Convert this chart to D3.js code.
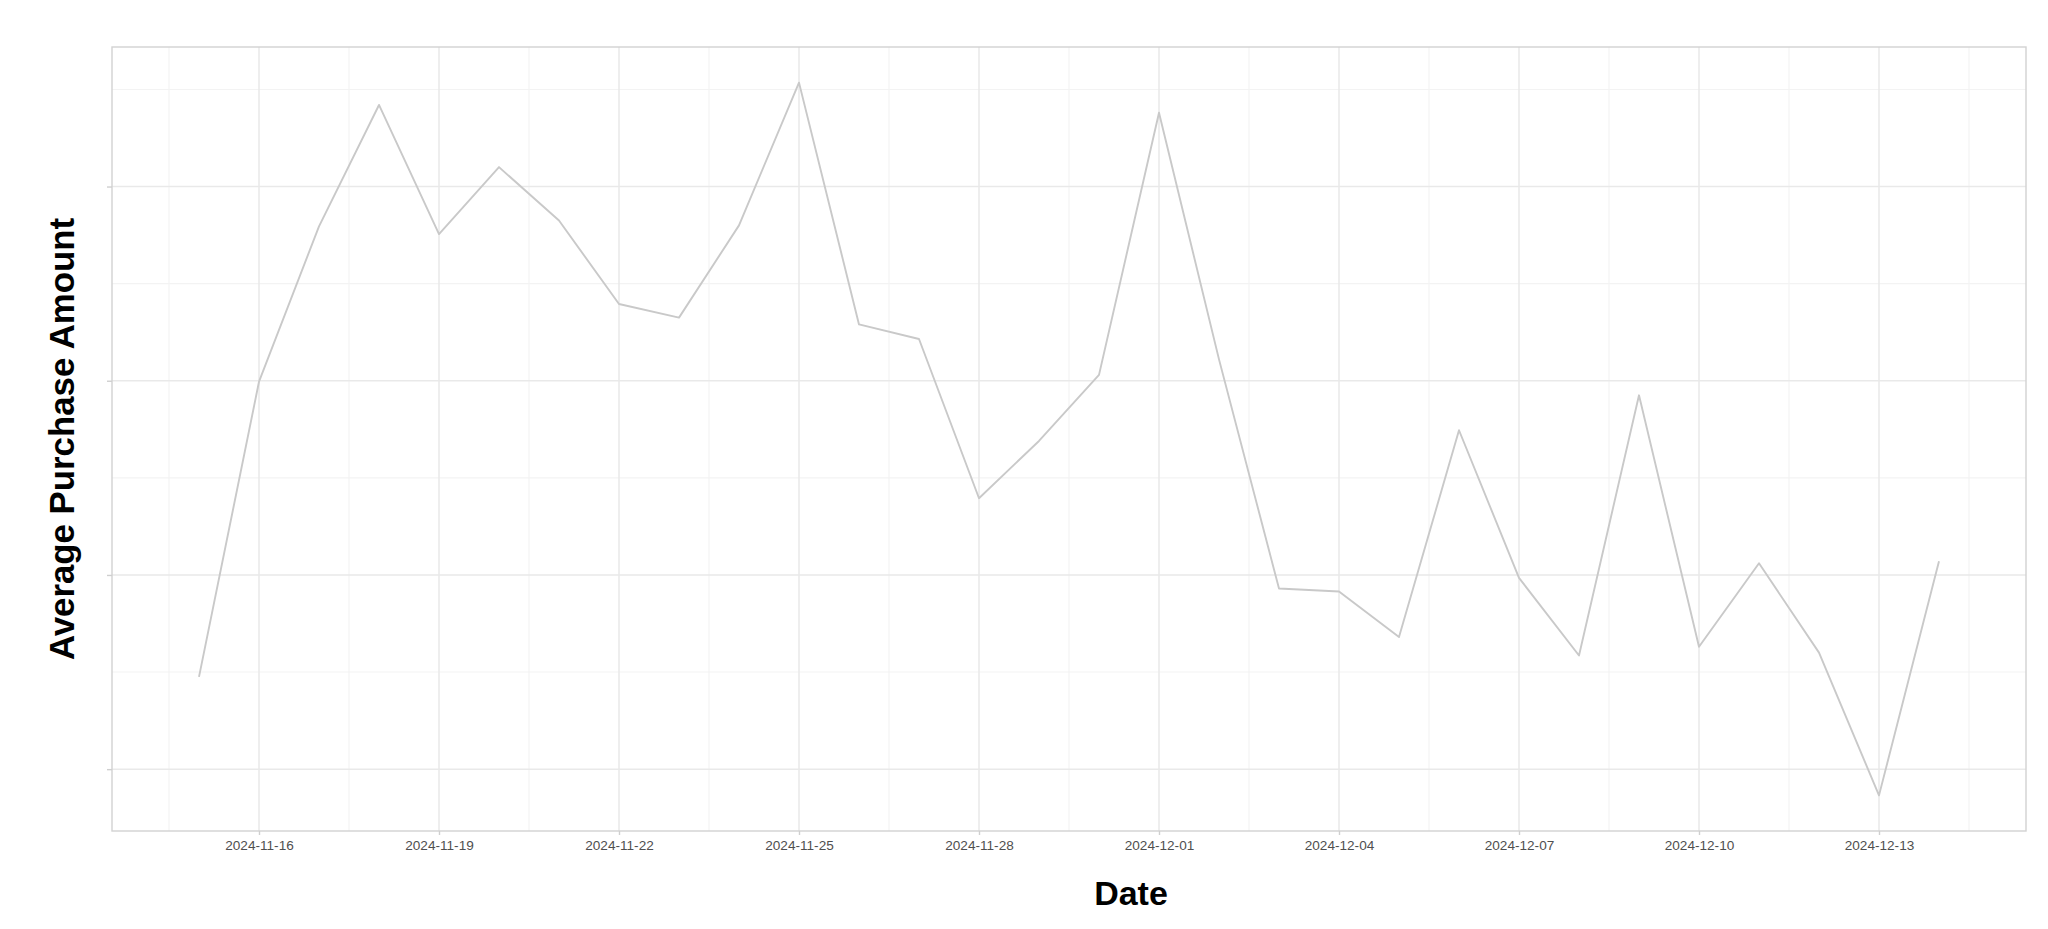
<!DOCTYPE html>
<html>
<head>
<meta charset="utf-8">
<script src="https://cdn.jsdelivr.net/npm/d3@7"></script>
<style>
  html, body { margin: 0; padding: 0; background: #ffffff; }
  svg { display: block; }
</style>
</head>
<body>
<svg id="chart" width="2048" height="929"></svg>
<script>
// ---- data ----
const dates = [
  "2024-11-15","2024-11-16","2024-11-17","2024-11-18","2024-11-19","2024-11-20",
  "2024-11-21","2024-11-22","2024-11-23","2024-11-24","2024-11-25","2024-11-26",
  "2024-11-27","2024-11-28","2024-11-29","2024-11-30","2024-12-01","2024-12-02",
  "2024-12-03","2024-12-04","2024-12-05","2024-12-06","2024-12-07","2024-12-08",
  "2024-12-09","2024-12-10","2024-12-11","2024-12-12","2024-12-13","2024-12-14"
];
const avgPurchase = [
  249.5, 279.9, 295.9, 308.4, 295.1, 302.0,
  296.5, 287.9, 286.5, 296.0, 310.7, 285.8,
  284.3, 267.9, 273.8, 280.6, 307.6, 282.2,
  258.6, 258.3, 253.6, 274.9, 259.7, 251.7,
  278.5, 252.6, 261.2, 252.0, 237.3, 261.4
];
const xTickLabels = ["2024-11-16","2024-11-19","2024-11-22","2024-11-25","2024-11-28",
  "2024-12-01","2024-12-04","2024-12-07","2024-12-10","2024-12-13"];
const yMajorTicks = [240, 260, 280, 300];
const yMinorTicks = [250, 270, 290, 310];
const xLabel = "Date";
const yLabel = "Average Purchase Amount";

// ---- layout ----
const W = 2048, H = 929;
const panel = { left: 112, right: 2026, top: 47, bottom: 831 };
const FONT = "'Liberation Sans', Arial, Helvetica, sans-serif";

const parse = d3.utcParse("%Y-%m-%d");
const data = dates.map((d, i) => ({ date: parse(d), value: avgPurchase[i] }));

const DAY = 86400000;
const xExt = d3.extent(data, d => d.date);
const xPad = (xExt[1] - xExt[0]) * 0.05;
const x = d3.scaleUtc()
  .domain([new Date(+xExt[0] - xPad), new Date(+xExt[1] + xPad)])
  .range([panel.left, panel.right]);

const yExt = d3.extent(data, d => d.value);
const yPad = (yExt[1] - yExt[0]) * 0.05;
const y = d3.scaleLinear()
  .domain([yExt[0] - yPad, yExt[1] + yPad])
  .range([panel.bottom, panel.top]);

const svg = d3.select("#chart");
svg.append("rect").attr("width", W).attr("height", H).attr("fill", "#ffffff");

const xMajor = xTickLabels.map(parse);
const xMinor = [];
for (let i = -1; i < xMajor.length; i++) {
  const base = i < 0 ? +xMajor[0] - 3 * DAY : +xMajor[i];
  const m = new Date(base + 1.5 * DAY);
  if (+m > +x.domain()[0] && +m < +x.domain()[1]) xMinor.push(m);
}

const grid = svg.append("g");
// minor grid
grid.selectAll(".ymin").data(yMinorTicks).join("line")
  .attr("x1", panel.left).attr("x2", panel.right)
  .attr("y1", d => y(d)).attr("y2", d => y(d))
  .attr("stroke", "#f3f3f3").attr("stroke-width", 1.1);
grid.selectAll(".xmin").data(xMinor).join("line")
  .attr("y1", panel.top).attr("y2", panel.bottom)
  .attr("x1", d => x(d)).attr("x2", d => x(d))
  .attr("stroke", "#f3f3f3").attr("stroke-width", 1.1);
// major grid
grid.selectAll(".ymaj").data(yMajorTicks).join("line")
  .attr("x1", panel.left).attr("x2", panel.right)
  .attr("y1", d => y(d)).attr("y2", d => y(d))
  .attr("stroke", "#e9e9e9").attr("stroke-width", 1.5);
grid.selectAll(".xmaj").data(xMajor).join("line")
  .attr("y1", panel.top).attr("y2", panel.bottom)
  .attr("x1", d => x(d)).attr("x2", d => x(d))
  .attr("stroke", "#e9e9e9").attr("stroke-width", 1.5);

// line
const line = d3.line().x(d => x(d.date)).y(d => y(d.value));
svg.append("path").datum(data)
  .attr("d", line)
  .attr("fill", "none")
  .attr("stroke", "#c9c9c9")
  .attr("stroke-width", 1.9)
  .attr("stroke-linejoin", "round");

// panel border
svg.append("rect")
  .attr("x", panel.left).attr("y", panel.top)
  .attr("width", panel.right - panel.left).attr("height", panel.bottom - panel.top)
  .attr("fill", "none").attr("stroke", "#d2d2d2").attr("stroke-width", 1.4);

// x axis
const xAxis = d3.axisBottom(x)
  .tickValues(xMajor)
  .tickFormat(d3.utcFormat("%Y-%m-%d"))
  .tickSize(4).tickPadding(5);
const gx = svg.append("g").attr("transform", `translate(0,${panel.bottom})`).call(xAxis);
gx.select(".domain").remove();
gx.selectAll(".tick line").attr("stroke", "#cfcfcf").attr("stroke-width", 1.4);
gx.selectAll(".tick text")
  .attr("font-family", FONT).attr("font-size", 13.6)
  .attr("fill", "#4f4f4f");

// y axis (tick marks only, no labels)
const yAxis = d3.axisLeft(y)
  .tickValues(yMajorTicks)
  .tickFormat("")
  .tickSize(5);
const gy = svg.append("g").attr("transform", `translate(${panel.left},0)`).call(yAxis);
gy.select(".domain").remove();
gy.selectAll(".tick line").attr("stroke", "#cfcfcf").attr("stroke-width", 1.4);

// axis titles
svg.append("text")
  .attr("x", 1131).attr("y", 905)
  .attr("text-anchor", "middle")
  .attr("font-family", FONT).attr("font-size", 34).attr("font-weight", "bold")
  .attr("fill", "#000000")
  .text(xLabel);

svg.append("text")
  .attr("transform", `translate(74,${(panel.top + panel.bottom) / 2}) rotate(-90)`)
  .attr("text-anchor", "middle")
  .attr("font-family", FONT).attr("font-size", 34.8).attr("font-weight", "bold")
  .attr("fill", "#000000")
  .text(yLabel);
</script>
</body>
</html>
